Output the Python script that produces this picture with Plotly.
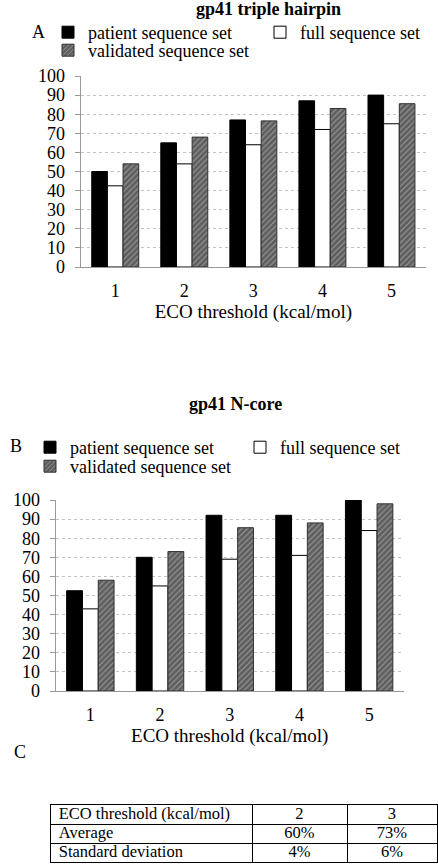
import plotly.graph_objects as go

# ---------------- data ----------------
thresholds = ["1", "2", "3", "4", "5"]

a_patient = [50, 65, 77, 87, 90]
a_full = [42.5, 54, 64, 72, 75]
a_validated = [54, 68, 76.5, 83, 85.5]

b_patient = [52.5, 70, 92, 92, 100]
b_full = [43, 55, 69, 71, 84]
b_validated = [58, 73, 85.5, 88, 98]

series_names = ["patient sequence set", "full sequence set", "validated sequence set"]

table_header = ["ECO threshold (kcal/mol)", "2", "3"]
table_row_labels = ["Average", "Standard deviation"]
table_thr2 = ["60%", "4%"]
table_thr3 = ["73%", "6%"]

# ---------------- style ----------------
W, H = 438, 864
FONT = "Liberation Serif"
FS = 18
TFS = 16.5
col_widths = [201.3, 95, 90]


def px_x(p):
    return p / W


def px_y(p):
    return 1 - p / H


hatch = dict(shape="/", bgcolor="#5e5e5e", fgcolor="#d6d6d6", size=4, solidity=0.28)

fig = go.Figure()


def add_chart(xa, ya, vals, legends, widths):
    pat, full, val = vals
    fig.add_trace(go.Bar(x=thresholds, y=pat, name=series_names[0], xaxis=xa, yaxis=ya,
                         marker=dict(color="black", line=dict(color="black", width=1)),
                         legend=legends[0], legendwidth=widths[0]))
    fig.add_trace(go.Bar(x=thresholds, y=full, name=series_names[1], xaxis=xa, yaxis=ya,
                         marker=dict(color="white", line=dict(color="black", width=1)),
                         legend=legends[0], legendwidth=widths[1]))
    fig.add_trace(go.Bar(x=thresholds, y=val, name=series_names[2], xaxis=xa, yaxis=ya,
                         marker=dict(color="#5e5e5e", pattern=hatch,
                                     line=dict(color="#303030", width=1)),
                         legend=legends[1]))


add_chart("x", "y", (a_patient, a_full, a_validated), ("legend", "legend2"), (167, 120))
add_chart("x2", "y2", (b_patient, b_full, b_validated), ("legend3", "legend4"), (165, 120))

# ---------------- table (C) drawn on its own axes ----------------
bounds = [0]
for w in col_widths:
    bounds.append(bounds[-1] + w)
col_text_x = [8, bounds[1] + col_widths[1] / 2, bounds[2] + col_widths[2] / 2]
table_columns = [
    [table_header[0]] + table_row_labels,
    [table_header[1]] + table_thr2,
    [table_header[2]] + table_thr3,
]
n_rows = len(table_columns[0])
for ci, col in enumerate(table_columns):
    fig.add_trace(go.Scatter(
        x=[col_text_x[ci]] * n_rows, y=[r + 0.5 for r in range(n_rows)], text=col,
        mode="text", textposition="middle right" if ci == 0 else "middle center",
        textfont=dict(family=FONT, size=TFS, color="black"),
        xaxis="x3", yaxis="y3", showlegend=False, hoverinfo="skip"))

xcommon = dict(type="category", showgrid=False, showline=True, linecolor="#999999",
               linewidth=1, ticks="", tickfont=dict(family=FONT, size=FS, color="black"),
               ticklabelstandoff=7,
               title=dict(text="ECO threshold (kcal/mol)", standoff=3,
                          font=dict(family=FONT, size=19, color="black")))
ycommon = dict(range=[0, 100], dtick=10, showgrid=True, gridcolor="#c4c4c4", griddash="dot",
               gridwidth=1, showline=True, linecolor="#999999", linewidth=1,
               ticks="outside", ticklen=5, tickcolor="#999999",
               tickfont=dict(family=FONT, size=FS, color="black"), ticklabelstandoff=6,
               zeroline=False)

legend_common = dict(orientation="h", xanchor="left", yanchor="top", bgcolor="rgba(0,0,0,0)",
                     font=dict(family=FONT, size=FS, color="black"), borderwidth=0,
                     tracegroupgap=0, itemclick=False)


def ann(text, x, y):
    return dict(text=text, x=px_x(x), y=px_y(y), xref="paper", yref="paper",
                xanchor="center", yanchor="middle", showarrow=False,
                font=dict(family=FONT, size=FS, color="black"))


fig.update_layout(
    width=W, height=H, autosize=False,
    margin=dict(l=0, r=0, t=0, b=0, pad=0, autoexpand=False),
    paper_bgcolor="white", plot_bgcolor="white",
    barmode="group", bargap=0.32, bargroupgap=0,
    font=dict(family=FONT, size=FS, color="black"),
    xaxis=dict(domain=[px_x(80.7), px_x(426)], anchor="y", **xcommon),
    yaxis=dict(domain=[px_y(267), px_y(76)], anchor="x", **ycommon),
    xaxis2=dict(domain=[px_x(55.5), px_x(404)], anchor="y2", **xcommon),
    yaxis2=dict(domain=[px_y(691), px_y(500)], anchor="x2", **ycommon),
    xaxis3=dict(domain=[px_x(50.7), px_x(437)], anchor="y3", range=[0, bounds[-1]],
                tickvals=bounds, showticklabels=False, ticks="", showgrid=True,
                gridcolor="black", gridwidth=1, zeroline=False, showline=True,
                mirror=True, linecolor="black", linewidth=1),
    yaxis3=dict(domain=[px_y(862), px_y(805)], anchor="x3", range=[n_rows, 0],
                tickvals=list(range(n_rows + 1)), showticklabels=False, ticks="",
                showgrid=True, gridcolor="black", gridwidth=1, zeroline=False,
                showline=True, mirror=True, linecolor="black", linewidth=1),
    legend=dict(x=px_x(48), y=px_y(14), **legend_common),
    legend2=dict(x=px_x(48), y=px_y(32), **legend_common),
    legend3=dict(x=px_x(30), y=px_y(429), **legend_common),
    legend4=dict(x=px_x(30), y=px_y(448), **legend_common),
    annotations=[
        ann("<b>gp41 triple hairpin</b>", 268, 9),
        ann("A", 38, 32),
        ann("<b>gp41 N-core</b>", 235, 404),
        ann("B", 16, 446),
        ann("C", 20, 752),
    ],
)

fig.write_html("out.html")
